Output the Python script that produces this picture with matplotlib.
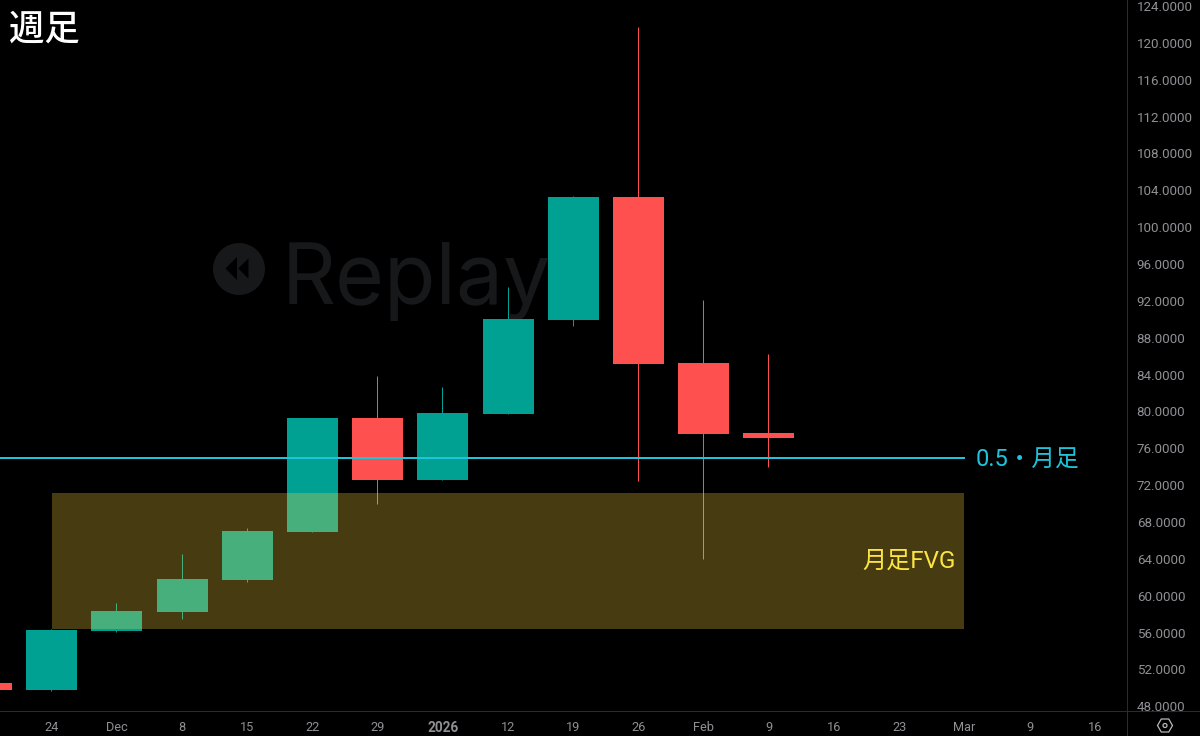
import matplotlib
matplotlib.use("Agg")
import matplotlib.pyplot as plt
from matplotlib.patches import Circle, Polygon, RegularPolygon, Rectangle

# weekly candles, first one is cut off by the left edge
idx = [-1, 0, 1, 2, 3, 4, 5, 6, 7, 8, 9, 10, 11]
opens = [50.53, 49.77, 56.18, 58.24, 61.71, 66.92, 79.29, 72.56, 79.72, 89.92, 103.27, 85.26, 77.66]
closes = [49.77, 56.28, 58.35, 61.82, 67.03, 79.29, 72.56, 79.83, 90.03, 103.27, 85.15, 77.55, 77.12]
highs = [50.53, 56.39, 59.21, 64.53, 67.35, 79.29, 83.85, 82.65, 93.51, 103.38, 121.72, 92.10, 86.24]
lows = [49.77, 49.66, 56.07, 57.48, 61.49, 66.92, 69.96, 72.56, 79.72, 89.27, 72.45, 63.99, 73.97]

fib_level = 74.95
fvg_top = 71.15
fvg_bottom = 56.39
zone_start = 0
zone_end = 13.99

x_labels = ['24', 'Dec', '8', '15', '22', '29', '2026', '12', '19', '26', 'Feb', '9', '16', '23', 'Mar', '9', '16']
y_ticks = list(range(48, 125, 4))

green = '#00a093'
red = '#ff5050'
cyan = '#1fc4da'
yellow = '#fde541'
grey = '#8f9094'
dim = '#2a2b2e'
ghost = '#17181a'

bar_step = 65.2  # pixels per week
first_bar = 51.7

plt.rcParams['font.family'] = ['Roboto', 'Noto Sans CJK JP', 'DejaVu Sans']

fig = plt.figure(figsize=(12, 7.36), dpi=100, facecolor='black')

# backdrop in pixel coords: watermark, separators, settings icon
bg = fig.add_axes([0, 0, 1, 1], zorder=0)
bg.set_xlim(0, 1200)
bg.set_ylim(736, 0)
bg.axis('off')
bg.add_patch(Circle((239, 269), 26, color=ghost, lw=0))
bg.add_patch(Polygon([(225.5, 268.5), (237, 257), (237, 280)], color='black', lw=0))
bg.add_patch(Polygon([(237.5, 268.5), (249, 257), (249, 280)], fc='black', ec=ghost, lw=0.8))
bg.text(282, 304, 'Replay', family='Inter', fontsize=60.5, color=ghost, ha='left', va='baseline')
bg.plot([1127, 1127], [0, 736], color=dim, lw=0.72)
bg.plot([0, 1200], [711, 711], color=dim, lw=0.72)
bg.add_patch(RegularPolygon((1165, 725.5), 6, radius=7.5, fill=False, ec='#b8b9bd', lw=0.9, orientation=0.5236))
bg.add_patch(Circle((1165, 725.5), 2, fill=False, ec='#b8b9bd', lw=0.9))

ax = fig.add_axes([0, 25 / 736, 1127 / 1200, 711 / 736], zorder=1)
ax.set_facecolor('none')
ax.set_xlim(-first_bar / bar_step, (1127 - first_bar) / bar_step)
ax.set_ylim(124 - 705 / 9.215, 124 + 6 / 9.215)
for s in ax.spines.values():
    s.set_visible(False)

for i, o, c, h, l in zip(idx, opens, closes, highs, lows):
    col = green if c >= o else red
    # half pixel back so the 1px wick lands on the bar's centre column
    ax.vlines(i - 0.5 / bar_step, l, h, color=col, lw=0.72, zorder=2)
    ax.bar(i, abs(c - o), bottom=min(o, c), width=51 / bar_step, color=col, lw=0, zorder=3)

ax.add_patch(Rectangle((zone_start, fvg_bottom), zone_end - zone_start, fvg_top - fvg_bottom,
                       fc='#ffd740', alpha=0.28, lw=0, zorder=4))
ax.plot([-1, 14], [fib_level, fib_level], color=cyan, lw=1.44, zorder=5, solid_capstyle='butt')

ax.text(zone_end + 0.18, fib_level - 0.2, '0.5・月足', color=cyan, fontsize=17, ha='left', va='center', zorder=6)
ax.text(zone_end - 0.12, 63.75, '月足FVG', color=yellow, fontsize=17.4, ha='right', va='center', zorder=6)

ax.yaxis.tick_right()
ax.set_yticks(y_ticks)
ax.set_yticklabels([f'{v}.0000' for v in y_ticks])
ax.set_xticks(range(len(x_labels)))
ax.set_xticklabels(x_labels)
ax.tick_params(axis='y', length=0, pad=7, labelsize=9.6, labelcolor=grey)
ax.tick_params(axis='x', length=0, pad=7, labelsize=9.2, labelcolor=grey)
for t in ax.get_xticklabels():
    if t.get_text() == '2026':
        t.set_fontweight('bold')
        t.set_fontsize(9.8)

fig.text(9 / 1200, 1 - 30 / 736, '週足', color='white', fontsize=25.5, fontweight='medium', ha='left', va='center',
         family=['Noto Sans CJK JP', 'DejaVu Sans'], zorder=5)

fig.savefig('out.png', dpi=100, facecolor='black')
